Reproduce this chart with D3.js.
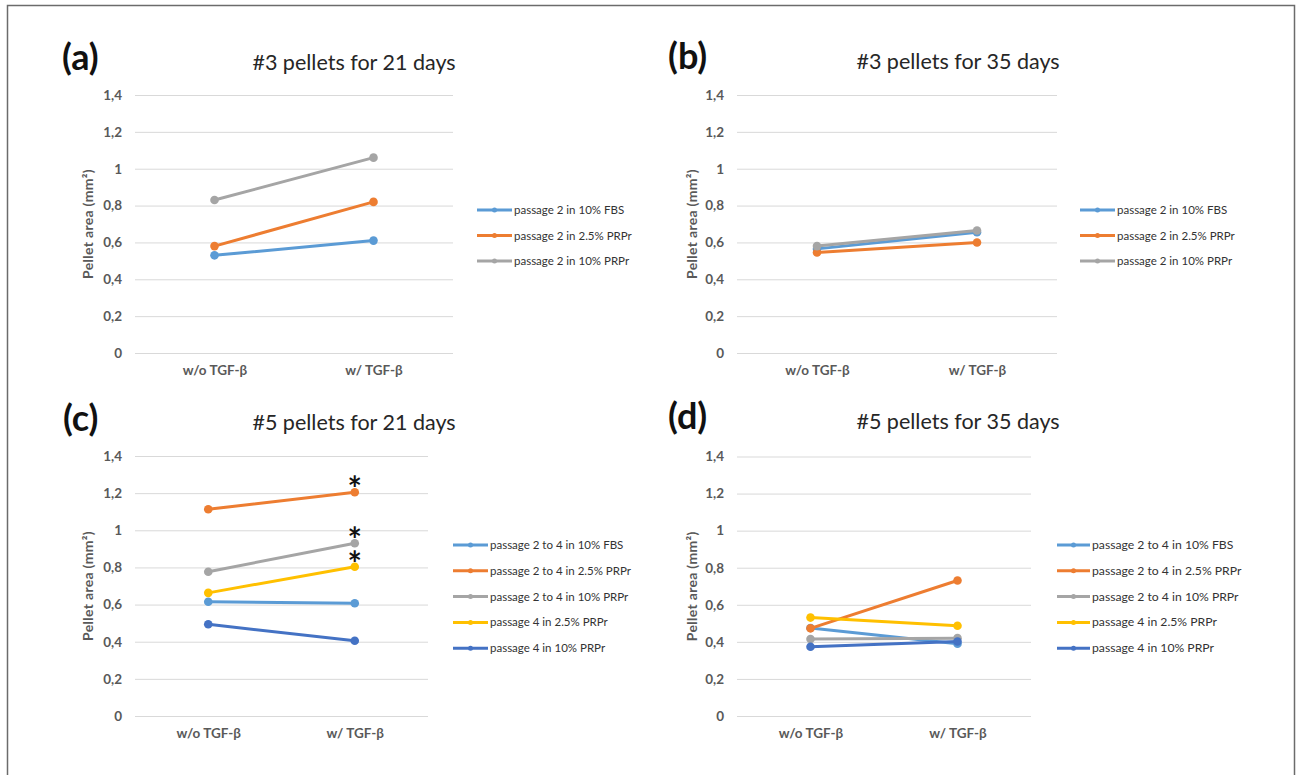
<!DOCTYPE html>
<html>
<head>
<meta charset="utf-8">
<script src="https://cdn.jsdelivr.net/npm/d3@7"></script>
<style>
  html, body { margin: 0; padding: 0; background: #fff; }
  svg { display: block; }
  text { font-family: Lato, "Open Sans", sans-serif; }
</style>
</head>
<body>
<svg id="chart" width="1296" height="775"></svg>
<script>
// ---------------- DATA ----------------
const categories = ["w/o TGF-β", "w/ TGF-β"];
const yTickValues = [0, 0.2, 0.4, 0.6, 0.8, 1.0, 1.2, 1.4];
const yTickLabels = ["0", "0,2", "0,4", "0,6", "0,8", "1", "1,2", "1,4"];
const yAxisTitle = "Pellet area (mm²)";

const panelLetters = ["(a)", "(b)", "(c)", "(d)"];
const panelTitles = ["#3 pellets for 21 days", "#3 pellets for 35 days",
                     "#5 pellets for 21 days", "#5 pellets for 35 days"];

const seriesNames3 = ["passage 2 in 10% FBS", "passage 2 in 2.5% PRPr", "passage 2 in 10% PRPr"];
const seriesNames5 = ["passage 2 to 4 in 10% FBS", "passage 2 to 4 in 2.5% PRPr",
                      "passage 2 to 4 in 10% PRPr", "passage 4 in 2.5% PRPr", "passage 4 in 10% PRPr"];

// values per series: [w/o TGF-β, w/ TGF-β]
const valuesA = [[0.53, 0.61], [0.58, 0.82], [0.83, 1.06]];
const valuesB = [[0.565, 0.655], [0.545, 0.60], [0.58, 0.665]];
const valuesC = [[0.615, 0.607], [1.113, 1.205], [0.777, 0.93], [0.663, 0.804], [0.494, 0.405]];
const valuesD = [[0.475, 0.39], [0.473, 0.731], [0.415, 0.42], [0.531, 0.487], [0.374, 0.402]];

// significance markers in panel (c): series index at category "w/ TGF-β"
const asterisksC = [1, 2, 3];

// ---------------- STYLE / LAYOUT ----------------
const seriesColors = ["#5B9BD5", "#ED7D31", "#A5A5A5", "#FFC000", "#4472C4"];

const panels = [
  { letter: 0, values: valuesA, names: seriesNames3, x0: 135, x1: 453, yTop: 95, yBot: 353,
    letterX: 62, letterY: 70, titleX: 354, titleY: 70, ylabX: 88, xlabY: 377,
    legX: 477, legY: 210, legStep: 25.5, legLen: 35, legFont: 11.5, stars: [] },
  { letter: 1, values: valuesB, names: seriesNames3, x0: 737, x1: 1057, yTop: 95, yBot: 353,
    letterX: 668, letterY: 69, titleX: 958, titleY: 69, ylabX: 692, xlabY: 377,
    legX: 1080, legY: 210, legStep: 25.5, legLen: 35, legFont: 11.5, stars: [] },
  { letter: 2, values: valuesC, names: seriesNames5, x0: 135, x1: 428, yTop: 456, yBot: 716,
    letterX: 63, letterY: 431, titleX: 354, titleY: 430, ylabX: 88, xlabY: 740,
    legX: 453, legY: 545, legStep: 25.8, legLen: 35, legFont: 11.5, stars: asterisksC },
  { letter: 3, values: valuesD, names: seriesNames5, x0: 737, x1: 1031, yTop: 456.5, yBot: 716,
    letterX: 668, letterY: 429, titleX: 958, titleY: 429, ylabX: 692, xlabY: 740,
    legX: 1057, legY: 545, legStep: 25.8, legLen: 33, legFont: 12.2, stars: [] }
];

const svg = d3.select("#chart");

// outer frame
svg.append("path")
  .attr("d", "M7.5,780 L7.5,5.5 L1294.5,5.5 L1294.5,780")
  .attr("fill", "none").attr("stroke", "#6b6b6b").attr("stroke-width", 1.5);

panels.forEach(p => {
  const g = svg.append("g");
  const x = d3.scalePoint().domain(categories).range([p.x0, p.x1]).padding(0.5);
  const y = d3.scaleLinear().domain([0, 1.4]).range([p.yBot, p.yTop]);

  // panel letter & title
  g.append("text").attr("x", p.letterX).attr("y", p.letterY)
    .attr("font-family", "'Liberation Sans', Arial, sans-serif")
    .attr("font-weight", "bold").attr("font-size", 36).attr("fill", "#111")
    .text(panelLetters[p.letter]);
  g.append("text").attr("x", p.titleX).attr("y", p.titleY)
    .attr("text-anchor", "middle").attr("font-size", 21.5).attr("fill", "#262626")
    .text(panelTitles[p.letter]);

  // gridlines + y tick labels via axis
  const yAxis = d3.axisLeft(y).tickValues(yTickValues)
    .tickFormat((d, i) => yTickLabels[i])
    .tickSize(-(p.x1 - p.x0)).tickPadding(13);
  const ag = g.append("g").attr("transform", `translate(${p.x0},0)`).call(yAxis);
  ag.select(".domain").remove();
  ag.selectAll(".tick line").attr("stroke", "#d9d9d9").attr("stroke-width", 1);
  ag.selectAll(".tick text").attr("font-family", "Lato, sans-serif")
    .attr("font-size", 13.5).attr("font-weight", "bold").attr("fill", "#595959");

  // x axis labels
  const xAxis = d3.axisBottom(x).tickSize(0).tickPadding(0);
  const xg = g.append("g").attr("transform", `translate(0,${p.xlabY - 12})`).call(xAxis);
  xg.select(".domain").remove();
  xg.selectAll(".tick text").attr("font-family", "Lato, sans-serif")
    .attr("font-size", 13.5).attr("font-weight", "bold").attr("fill", "#595959");

  // y axis title
  const ymid = (p.yTop + p.yBot) / 2;
  g.append("text")
    .attr("transform", `translate(${p.ylabX + 5},${ymid}) rotate(-90)`)
    .attr("text-anchor", "middle").attr("font-size", 14).attr("font-weight", "bold")
    .attr("fill", "#595959").attr("letter-spacing", 0.3)
    .text(yAxisTitle);

  // series lines & markers
  const line = d3.line().x((d, i) => x(categories[i])).y(d => y(d));
  p.values.forEach((vals, si) => {
    const col = seriesColors[si];
    g.append("path").datum(vals).attr("d", line)
      .attr("fill", "none").attr("stroke", col).attr("stroke-width", 3)
      .attr("stroke-linecap", "round");
    g.selectAll(null).data(vals).enter().append("circle")
      .attr("cx", (d, i) => x(categories[i])).attr("cy", d => y(d))
      .attr("r", 4.3).attr("fill", col);
  });

  // asterisks
  p.stars.forEach(si => {
    const v = p.values[si][1];
    g.append("text").attr("x", x(categories[1])).attr("y", y(v) + 9)
      .attr("text-anchor", "middle")
      .attr("font-family", "'Liberation Sans', Arial, sans-serif")
      .attr("font-weight", "bold").attr("font-size", 34).attr("fill", "#111")
      .text("*");
  });

  // legend
  p.names.forEach((name, si) => {
    const ly = p.legY + si * p.legStep;
    const col = seriesColors[si];
    g.append("line").attr("x1", p.legX).attr("x2", p.legX + p.legLen)
      .attr("y1", ly).attr("y2", ly).attr("stroke", col).attr("stroke-width", 3);
    g.append("circle").attr("cx", p.legX + p.legLen / 2).attr("cy", ly).attr("r", 2.5).attr("fill", col);
    g.append("text").attr("x", p.legX + p.legLen + 2).attr("y", ly + 4)
      .attr("font-size", p.legFont).attr("fill", "#333")
      .text(name);
  });
});
</script>
</body>
</html>
